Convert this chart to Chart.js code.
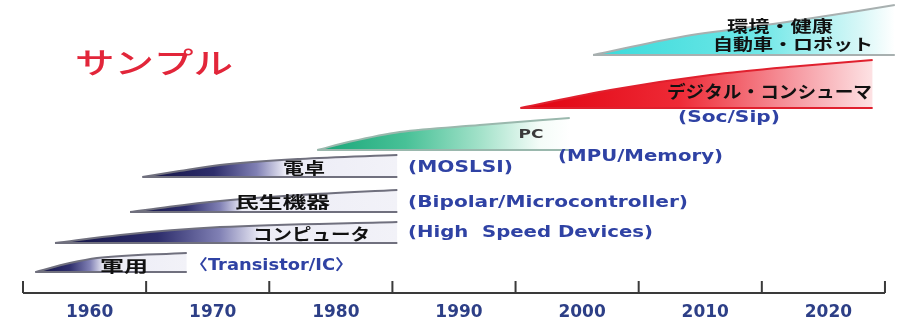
<!DOCTYPE html>
<html>
<head>
<meta charset="utf-8">
<script src="https://cdn.jsdelivr.net/npm/chart.js@4/dist/chart.umd.min.js"></script>
<style>
  html, body { margin: 0; padding: 0; background: #ffffff; }
  #c { display: block; }
</style>
</head>
<body>
<canvas id="c" width="904" height="325"></canvas>
<script>
// ---------------- DATA ----------------
const eraNames = ['軍用', 'コンピュータ', '民生機器', '電卓', 'PC', 'デジタル・コンシューマ', ['環境・健康', '自動車・ロボット']];
const techNames = ['〈Transistor/IC〉', '(High  Speed Devices)', '(Bipolar/Microcontroller)', '(MOSLSI)', '(MPU/Memory)', '(Soc/Sip)'];
// base (bottom edge) level of each era wedge
const eraBase = [9.3, 19.0, 29.3, 41.0, 50.0, 64.0, 81.7];
// top edge of each wedge: years and levels
const eraTopYears = [
  [1956.0, 1958.8, 1961.0, 1968.3],
  [1957.6, 1962.9, 1971.0, 1985.4],
  [1963.7, 1966.9, 1971.0, 1977.5, 1985.4],
  [1964.7, 1967.7, 1971.0, 1977.5, 1985.4],
  [1978.9, 1981.6, 1985.6, 1992.1, 1999.4],
  [1995.4, 2002.7, 2010.8, 2018.1, 2024.0],
  [2001.3, 2008.4, 2016.5, 2025.8]
];
const eraTopLevels = [
  [9.3, 12.3, 14.0, 15.7],
  [19.0, 21.7, 24.3, 26.0],
  [29.3, 31.1, 33.0, 35.0, 36.7],
  [41.0, 43.0, 45.0, 47.0, 48.3],
  [50.0, 52.8, 56.0, 58.3, 60.7],
  [64.0, 70.0, 75.0, 78.0, 80.0],
  [81.7, 87.7, 92.3, 98.3]
];
const tickYears = [1960, 1970, 1980, 1990, 2000, 2010, 2020];
const axisTickYears = [1955, 1965, 1975, 1985, 1995, 2005, 2015, 2025];
const axisLevel = 2.33;
const axisTickTop = 6.3;

// ---------------- STYLE / LAYOUT ----------------
const NAVY = (f) => [[0, '#121244'], [f * 0.5, '#2e2e6c'], [f * 0.8, '#8080b4'], [f, '#ececf6'], [1, '#f2f2f8']];
const eraStops = [
  NAVY(0.45), NAVY(0.6), NAVY(0.42), NAVY(0.56),
  [[0, '#17a577'], [0.35, '#48c197'], [0.65, '#a4e2ca'], [0.88, '#f4fcf8'], [1, '#ffffff']],
  [[0, '#e0000e'], [0.45, '#ee2a36'], [0.78, '#f69aa2'], [1, '#fde2e4']],
  [[0, '#38dada'], [0.55, '#6ee7e7'], [0.88, '#d6f7f7'], [1, '#ffffff']]
];
const eraEdge = ['#70707e', '#70707e', '#70707e', '#70707e', '#9ab8ad', '#e0202e', '#a8b0b0'];

const eraLabelPos = [
  [{ x: 1963.2, y: 11.33, w: 48 }],
  [{ x: 1978.43, y: 22.0, w: 117 }],
  [{ x: 1976.07, y: 32.67, w: 95 }],
  [{ x: 1977.82, y: 44.17, w: 42 }],
  [{ x: 1996.25, y: 55.0, w: 25 }],
  [{ x: 2015.62, y: 69.33, w: 205 }],
  [{ x: 2016.47, y: 91.33, w: 106 }, { x: 2017.53, y: 85.33, w: 160 }]
];
const techLabelPos = [
  { x: 1975.18, y: 11.33, w: 163 },
  { x: 1996.21, y: 22.33, w: 245 },
  { x: 1997.64, y: 32.33, w: 280 },
  { x: 1990.53, y: 44.0, w: 105 },
  { x: 2005.15, y: 47.67, w: 165 },
  { x: 2012.33, y: 60.67, w: 102 }
];
const title = { text: 'サンプル', x: 1965.64, y: 79.0, w: 158 };

// ---------------- DATASETS ----------------
function makeGradient(chart, i) {
  const { ctx, chartArea, scales } = chart;
  if (!chartArea) return 'rgba(0,0,0,0)';
  const ys = eraTopYears[i];
  const x0 = scales.x.getPixelForValue(ys[0]);
  const x1 = scales.x.getPixelForValue(ys[ys.length - 1]);
  const g = ctx.createLinearGradient(x0, 0, x1, 0);
  eraStops[i].forEach(([o, c]) => g.addColorStop(Math.min(1, o), c));
  return g;
}

const datasets = [];
// axis line and tick marks
datasets.push({
  data: [{ x: axisTickYears[0], y: axisLevel }, { x: axisTickYears[axisTickYears.length - 1], y: axisLevel }],
  borderColor: '#3a3a3a', borderWidth: 2, pointRadius: 0, fill: false
});
const tickPts = [];
axisTickYears.forEach(yr => {
  tickPts.push({ x: yr, y: axisLevel }, { x: yr, y: axisTickTop }, { x: yr, y: null });
});
datasets.push({ data: tickPts, borderColor: '#3a3a3a', borderWidth: 2, pointRadius: 0, fill: false, spanGaps: false });

eraTopYears.forEach((years, i) => {
  const start = years[0], end = years[years.length - 1];
  // bottom edge (drawn above the fill)
  datasets.push({
    data: [{ x: start, y: eraBase[i] }, { x: end, y: eraBase[i] }],
    borderColor: eraEdge[i], borderWidth: 2, pointRadius: 0, fill: false
  });
  // top edge with gradient fill down to the base level
  datasets.push({
    data: years.map((x, k) => ({ x, y: eraTopLevels[i][k] })),
    borderColor: eraEdge[i], borderWidth: 2, pointRadius: 0,
    cubicInterpolationMode: 'monotone',
    fill: { target: { value: eraBase[i] } },
    backgroundColor: (c) => makeGradient(c.chart, i)
  });
});

// ---------------- TEXT PLUGIN ----------------
function drawFit(ctx, text, cx, cy, width, font, color) {
  ctx.save();
  ctx.font = font;
  const w = ctx.measureText(text).width;
  ctx.translate(cx, cy);
  ctx.scale(width / w, 1);
  ctx.textAlign = 'center';
  ctx.textBaseline = 'middle';
  ctx.fillStyle = color;
  ctx.fillText(text, 0, 0);
  ctx.restore();
}

const labelPlugin = {
  id: 'labels',
  afterDatasetsDraw(chart) {
    const { ctx, scales: { x, y } } = chart;
    const cjkBold = (s) => `bold ${s}px "Noto Sans CJK JP", sans-serif`;
    const latinBold = (s) => `bold ${s}px "DejaVu Sans", "Noto Sans CJK JP", sans-serif`;
    drawFit(ctx, title.text, x.getPixelForValue(title.x), y.getPixelForValue(title.y), title.w,
      `500 29px "Noto Sans CJK JP", sans-serif`, '#e2263a');
    eraNames.forEach((name, i) => {
      const lines = Array.isArray(name) ? name : [name];
      lines.forEach((t, k) => {
        const p = eraLabelPos[i][k];
        const isLatin = /^[A-Za-z]+$/.test(t);
        const font = isLatin ? latinBold(13) : cjkBold(i === 5 ? 17 : 16);
        drawFit(ctx, t, x.getPixelForValue(p.x), y.getPixelForValue(p.y), p.w, font, isLatin ? '#3a3a3a' : '#111111');
      });
    });
    techNames.forEach((t, i) => {
      const p = techLabelPos[i];
      drawFit(ctx, t, x.getPixelForValue(p.x), y.getPixelForValue(p.y), p.w, latinBold(15), '#2f42a4');
    });
  }
};

// ---------------- CHART ----------------
new Chart(document.getElementById('c'), {
  type: 'line',
  data: { datasets },
  options: {
    responsive: false,
    animation: false,
    devicePixelRatio: 1,
    layout: { padding: 0 },
    plugins: { legend: { display: false }, tooltip: { enabled: false } },
    scales: {
      x: {
        type: 'linear',
        min: 1953.132,
        max: 2026.546,
        afterBuildTicks: (s) => { s.ticks = tickYears.map(v => ({ value: v })); },
        afterFit: (s) => { s.height = 25; },
        grid: { display: false, drawTicks: false },
        border: { display: false },
        ticks: {
          autoSkip: false,
          maxRotation: 0,
          padding: 2,
          labelOffset: 5,
          color: '#2d3f87',
          font: { family: 'DejaVu Sans', weight: 'bold', size: 17 },
          callback: (v) => String(v)
        }
      },
      y: { type: 'linear', min: 0, max: 100, display: false }
    }
  },
  plugins: [labelPlugin]
});
</script>
</body>
</html>
